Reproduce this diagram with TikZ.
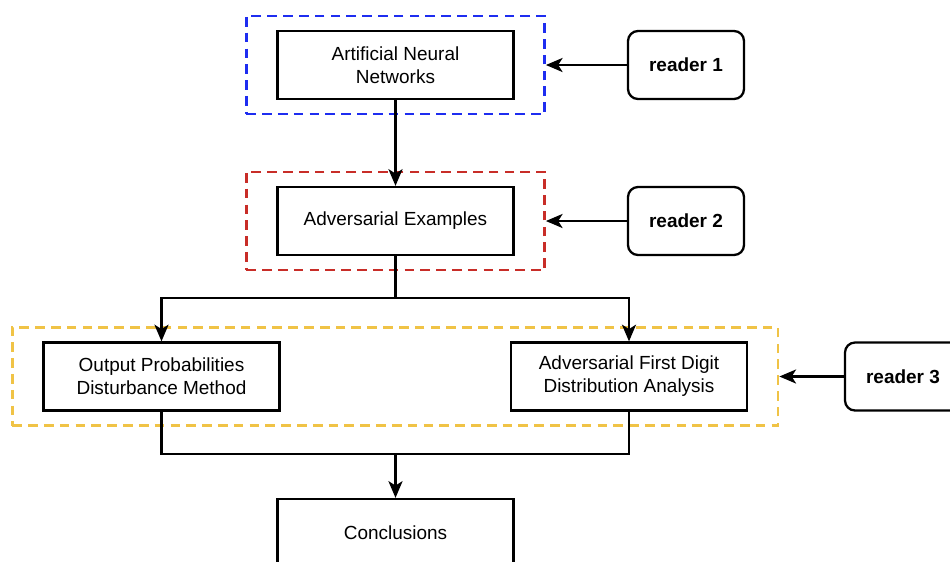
\documentclass[tikz,border=0pt]{standalone}
\usepackage{fontspec}
\setmainfont{Liberation Sans}
\usetikzlibrary{
  arrows.meta,
  positioning,
  fit,
  calc
}
\definecolor{grpblue}{RGB}{30,45,240}
\definecolor{grpred}{RGB}{200,45,40}
\definecolor{grpyellow}{RGB}{240,195,70}

\begin{document}
\begin{tikzpicture}[
  every node/.style={font=\fontsize{10.8}{13}\selectfont},
  stage/.style={draw, line width=1.3pt, minimum width=4.72cm,
                minimum height=1.36cm, align=center},
  reader/.style={draw, line width=1.3pt, rounded corners=0.2cm,
                 minimum width=2.32cm, minimum height=1.36cm,
                 font=\fontsize{10.8}{13}\selectfont\bfseries},
  group/.style={draw, line width=1.4pt, dash pattern=on 5.5pt off 3.5pt,
                inner xsep=0.6cm, inner ysep=0.28cm},
  link/.style={line width=1.3pt},
  >={Stealth[length=9.5pt, width=8pt, inset=2.5pt]}
]
\useasboundingbox (0,0) rectangle (19,-11.22);

\node[stage] (ann) at (7.91, -1.30) {Artificial Neural\\Networks};
\node[stage] (adv) at (7.91, -4.42) {Adversarial Examples};
\node[stage] (opdm) at (3.23, -7.53)
  {Output Probabilities\\Disturbance Method};
\node[stage] (afdda) at (12.58, -7.53)
  {Adversarial First Digit\\Distribution Analysis};
\node[stage] (concl) at (7.91, -10.66) {Conclusions};

% Groups
\node[group, draw=grpblue, fit=(ann)] (g1) {};
\node[group, draw=grpred, fit=(adv)] (g2) {};
\node[group, draw=grpyellow, fit=(opdm)(afdda)] (g3) {};

% Readers
\node[reader] (r1) at (13.72, -1.30) {reader 1};
\node[reader] (r2) at (13.72, -4.42) {reader 2};
\node[reader] (r3) at (18.06, -7.53) {reader 3};

\draw[->, link] (r1.west) -- (g1.east);
\draw[->, link] (r2.west) -- (g2.east);
\draw[->, link] (r3.west) -- (g3.east);

% Arrows
\coordinate (split) at ($(adv.south)+(0,-0.84)$);
\coordinate (merge) at ($(concl.north)+(0,0.88)$);
\draw[->, link] (ann.south) -- (adv.north);
\draw[->, link] (adv.south) -- (split) -| (opdm.north);
\draw[->, link] (split) -| (afdda.north);
\draw[link] (opdm.south) |- (merge);
\draw[link] (afdda.south) |- (merge);
\draw[->, link] (merge) -- (concl.north);

\end{tikzpicture}
\end{document}
